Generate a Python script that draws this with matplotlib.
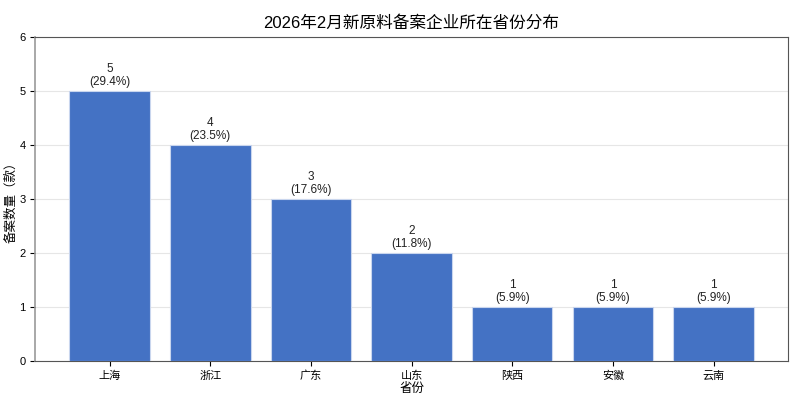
import matplotlib
matplotlib.use("Agg")
import matplotlib.pyplot as plt

plt.rcParams['font.family'] = ['Liberation Sans', 'Noto Sans CJK SC', 'DejaVu Sans']

provinces = ['上海', '浙江', '广东', '山东', '陕西', '安徽', '云南']
counts = [5, 4, 3, 2, 1, 1, 1]
title = '2026年2月新原料备案企业所在省份分布'

total = sum(counts)
fig, ax = plt.subplots(figsize=(8, 3.98), dpi=100)
fig.subplots_adjust(left=0.044, right=0.985, top=0.907, bottom=0.093)

x = range(len(provinces))
bars = ax.bar(x, counts, width=0.8, color='#4472C4', edgecolor='#c9d6ee', linewidth=0.8, zorder=3)
for xi, c in zip(x, counts):
    ax.text(xi, c + 0.05, f'{c}\n({c / total * 100:.1f}%)', ha='center', va='bottom',
            fontsize=8.5, color='#222222', linespacing=1.1)

ax.set_xticks(list(x))
ax.set_xticklabels(provinces, fontsize=8)
ax.set_ylim(0, 6)
ax.set_yticks(range(0, 7))
ax.tick_params(axis='y', labelsize=8)
ax.set_xlabel('省份', fontsize=9, labelpad=1)
ax.set_ylabel('备案数量（款）', fontsize=9)
ax.yaxis.set_label_coords(-0.023, 0.5)
ax.set_title(title, fontsize=12, pad=7)
ax.yaxis.grid(True, color='#e6e6e6', linewidth=0.8, zorder=0)
ax.set_axisbelow(True)
for s in ax.spines.values():
    s.set_color('#555555')
    s.set_linewidth(0.8)
ax.spines['left'].set_color('#999999')
ax.spines['left'].set_linewidth(1.2)

fig.savefig('out.png', dpi=100)
